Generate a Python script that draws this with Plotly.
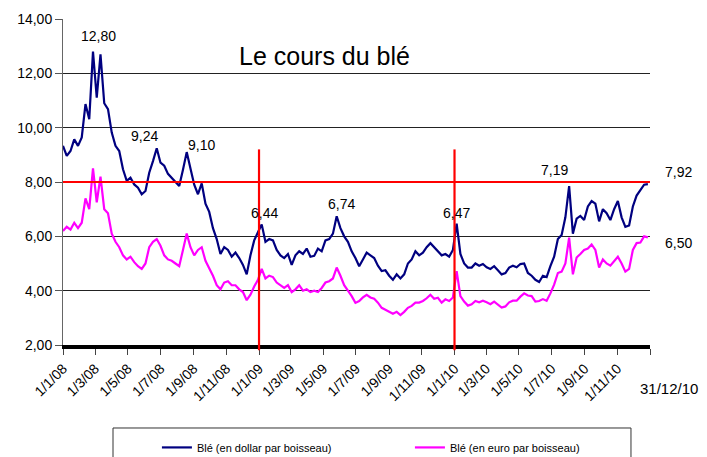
import pandas as pd
import plotly.graph_objects as go

# Weekly dates (x categories)
dates = pd.date_range("2008-01-01", periods=157, freq="7D")

ble_dollar = [
    9.33, 8.96, 9.14, 9.57, 9.33, 9.64, 10.87, 10.31, 12.80, 11.10,
    12.70, 10.90, 10.68, 9.82, 9.33, 9.14, 8.47, 8.04, 8.16, 7.91,
    7.79, 7.55, 7.67, 8.34, 8.77, 9.24, 8.71, 8.60, 8.30, 8.15,
    8.00, 7.85, 8.45, 9.10, 8.50, 7.90, 7.55, 7.95, 7.20, 6.90,
    6.30, 5.90, 5.35, 5.60, 5.50, 5.25, 5.40, 5.20, 4.95, 4.60,
    5.30, 5.85, 6.15, 6.44, 5.80, 5.90, 5.85, 5.50, 5.30, 5.20,
    5.35, 4.95, 5.30, 5.45, 5.35, 5.55, 5.25, 5.28, 5.55, 5.45,
    5.85, 5.90, 6.10, 6.74, 6.30, 6.00, 5.80, 5.45, 5.20, 4.90,
    5.15, 5.40, 5.30, 5.20, 4.92, 4.72, 4.75, 4.55, 4.40, 4.60,
    4.45, 4.60, 5.00, 5.15, 5.45, 5.30, 5.40, 5.60, 5.75, 5.60,
    5.45, 5.30, 5.35, 5.25, 5.50, 6.47, 5.35, 5.00, 4.85, 4.85,
    5.00, 4.92, 4.98, 4.86, 4.80, 4.90, 4.75, 4.60, 4.65, 4.85,
    4.92, 4.86, 4.98, 5.00, 4.65, 4.55, 4.40, 4.32, 4.55, 4.50,
    4.90, 5.25, 5.90, 6.05, 6.70, 7.85, 6.10, 6.65, 6.75, 6.60,
    7.10, 7.30, 7.20, 6.55, 7.00, 6.85, 6.60, 7.00, 7.30, 6.70,
    6.35, 6.40, 7.10, 7.50, 7.70, 7.90, 7.92,
]

ble_euro = [
    6.20, 6.35, 6.25, 6.50, 6.30, 6.50, 7.40, 7.00, 8.50, 7.25,
    8.20, 7.00, 6.85, 6.10, 5.80, 5.60, 5.30, 5.15, 5.25, 5.05,
    4.90, 4.80, 5.00, 5.60, 5.80, 5.90, 5.65, 5.30, 5.15, 5.10,
    5.00, 4.90, 5.50, 6.10, 5.60, 5.30, 5.50, 5.60, 5.10, 4.85,
    4.55, 4.20, 4.05, 4.30, 4.35, 4.20, 4.20, 4.05, 3.95, 3.65,
    3.85, 4.15, 4.40, 4.80, 4.45, 4.55, 4.50, 4.30, 4.20, 4.10,
    4.20, 3.95, 4.05, 4.20, 4.00, 4.05, 3.95, 4.00, 3.95, 4.10,
    4.30, 4.35, 4.45, 4.85, 4.55, 4.20, 4.00, 3.80, 3.55, 3.62,
    3.75, 3.85, 3.75, 3.70, 3.56, 3.37, 3.30, 3.22, 3.15, 3.22,
    3.10, 3.22, 3.37, 3.44, 3.56, 3.56, 3.62, 3.72, 3.85, 3.70,
    3.74, 3.56, 3.68, 3.62, 3.75, 4.72, 3.80, 3.60, 3.45, 3.50,
    3.62, 3.57, 3.63, 3.57, 3.50, 3.60, 3.50, 3.38, 3.42, 3.57,
    3.63, 3.63, 3.78, 3.90, 3.82, 3.80, 3.60, 3.62, 3.69, 3.63,
    3.90, 4.22, 4.65, 4.70, 5.00, 5.95, 4.60, 5.22, 5.35, 5.50,
    5.55, 5.70, 5.50, 4.85, 5.15, 5.00, 4.92, 5.10, 5.25, 5.00,
    4.70, 4.80, 5.50, 5.75, 5.77, 6.00, 5.96,
]

tick_dates = ["2008-01-01", "2008-03-01", "2008-05-01", "2008-07-01", "2008-09-01",
              "2008-11-01", "2009-01-01", "2009-03-01", "2009-05-01", "2009-07-01",
              "2009-09-01", "2009-11-01", "2010-01-01", "2010-03-01", "2010-05-01",
              "2010-07-01", "2010-09-01", "2010-11-01", "2011-01-01"]
tick_labels = ["1/1/08", "1/3/08", "1/5/08", "1/7/08", "1/9/08", "1/11/08",
               "1/1/09", "1/3/09", "1/5/09", "1/7/09", "1/9/09", "1/11/09",
               "1/1/10", "1/3/10", "1/5/10", "1/7/10", "1/9/10", "1/11/10", ""]

# point labels: (date, value, text)
point_label_dates = ["2008-03-08", "2008-06-02", "2008-09-16", "2009-01-12",
                     "2009-06-04", "2010-01-04", "2010-07-07"]
point_label_values = [13.36, 9.71, 9.37, 6.87, 7.20, 6.87, 8.45]
point_label_texts = ["12,80", "9,24", "9,10", "6,44", "6,74", "6,47", "7,19"]

end_labels = ["7,92", "6,50"]
end_label_values = [8.38, 5.76]

title_text = "Le cours du blé"
seuil = 8.0
red_dates = ["2009-01-01", "2010-01-01"]

FONT = "Liberation Sans, Arial, sans-serif"

fig = go.Figure()
fig.add_trace(go.Scatter(x=dates, y=ble_dollar, mode="lines",
                         name="Blé (en dollar par boisseau)", legendwidth=208,
                         line=dict(color="#000080", width=2.2)))
fig.add_trace(go.Scatter(x=dates, y=ble_euro, mode="lines",
                         name="Blé (en euro par boisseau)",
                         line=dict(color="#FF00FF", width=2.2)))

shapes = [dict(type="line", xref="paper", x0=0, x1=1, yref="y", y0=seuil, y1=seuil,
               line=dict(color="#FF0000", width=2), layer="above")]
for d in red_dates:
    shapes.append(dict(type="line", xref="x", x0=d, x1=d, yref="paper", y0=-0.016, y1=0.6,
                       line=dict(color="#FF0000", width=2.2), layer="above"))
# legend frame
shapes.append(dict(type="rect", xref="paper", yref="paper", x0=0.0852, x1=0.9676,
                   y0=-0.40, y1=-0.2546, line=dict(color="#333333", width=1),
                   fillcolor="rgba(0,0,0,0)", layer="below"))

annotations = [dict(text=title_text, xref="paper", yref="paper", x=0.446, y=0.885,
                    xanchor="center", yanchor="middle", showarrow=False,
                    font=dict(size=25, color="black", family=FONT))]
for d, v, t in zip(point_label_dates, point_label_values, point_label_texts):
    annotations.append(dict(text=t, x=d, y=v, xref="x", yref="y", showarrow=False,
                            xanchor="center", yanchor="middle",
                            font=dict(size=14, color="black", family=FONT)))
for v, t in zip(end_label_values, end_labels):
    annotations.append(dict(text=t, x=1.048, y=v, xref="paper", yref="y", showarrow=False,
                            xanchor="center", yanchor="middle",
                            font=dict(size=14, color="black", family=FONT)))
annotations.append(dict(text="31/12/10", xref="paper", yref="paper", x=1.032, y=-0.132,
                        xanchor="center", yanchor="middle", showarrow=False,
                        font=dict(size=15, color="black", family=FONT)))

# The page body has an 8px margin, so the figure is 8px smaller each way
fig.update_layout(
    width=699, height=449,
    margin=dict(l=55, r=57, t=11, b=112, autoexpand=False),
    paper_bgcolor="white", plot_bgcolor="white",
    font=dict(family=FONT, size=14, color="black"),
    shapes=shapes, annotations=annotations,
    showlegend=True,
    legend=dict(orientation="h", x=0.160, xanchor="left", y=-0.2697, yanchor="top",
                borderwidth=0, bgcolor="rgba(0,0,0,0)",
                font=dict(size=11, family=FONT), itemwidth=30),
    xaxis=dict(type="date", range=["2008-01-01", "2011-01-01"],
               tickmode="array", tickvals=tick_dates, ticktext=tick_labels,
               tickangle=-45, ticks="outside", ticklen=6, tickwidth=1, tickcolor="#444444",
               showgrid=False, zeroline=False, showline=True, linecolor="black", linewidth=4,
               tickfont=dict(size=14, family=FONT), automargin=False),
    yaxis=dict(range=[2, 14], dtick=2, tick0=2, tickformat=".2f",
               ticks="outside", ticklen=7, tickwidth=1, tickcolor="#555555",
               showgrid=True, gridcolor="#222222", gridwidth=1,
               zeroline=False, showline=True, linecolor="#666666", linewidth=1,
               tickfont=dict(size=14, family=FONT), automargin=False),
    separators=",.",
)

fig.write_html("out.html")
